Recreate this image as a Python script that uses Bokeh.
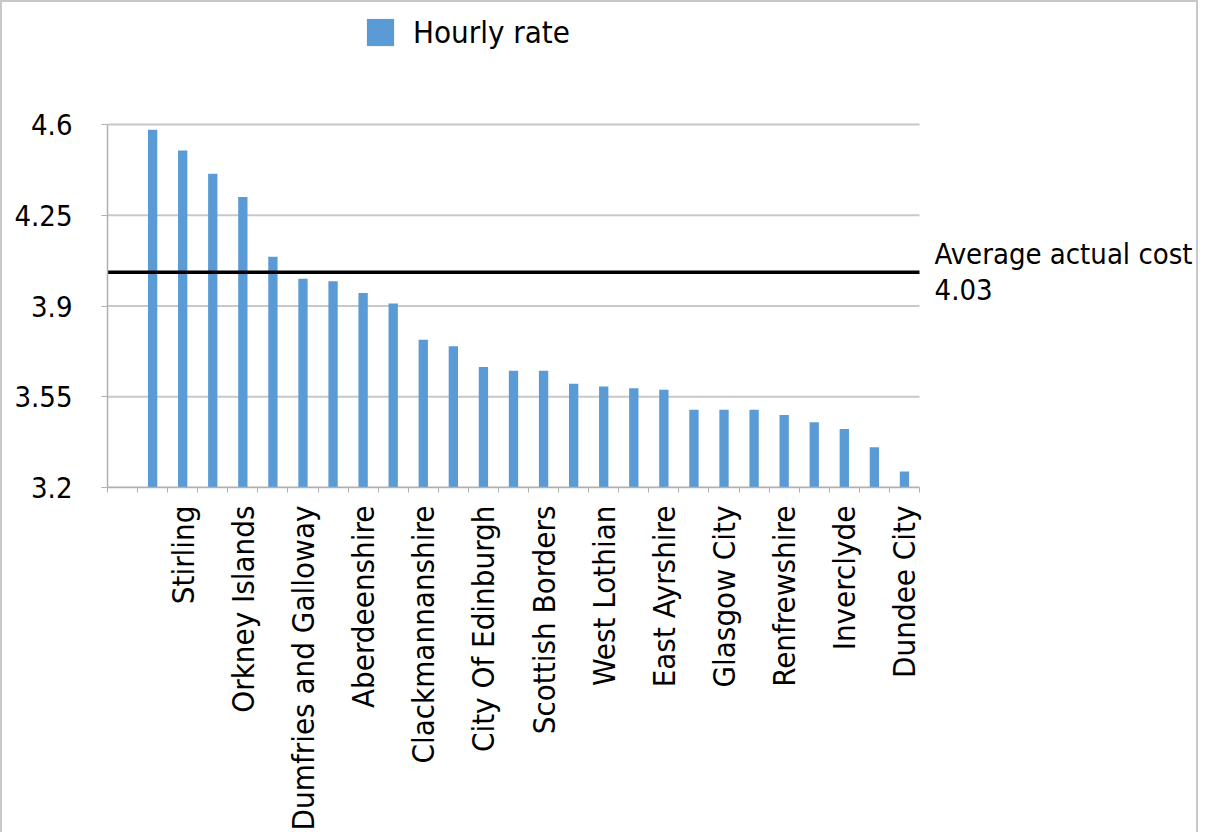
from bokeh.plotting import figure
from bokeh.models import FixedTicker, Label, Legend, LegendItem, ColumnDataSource
from bokeh.embed import file_html
from bokeh.resources import INLINE
import math

# ---- data ----
# 27 category slots; slot 1 is blank, bars occupy slots 2..27
slot_count = 27
bar_slots = list(range(2, 28))
hourly_rate = [4.58, 4.50, 4.41, 4.32, 4.09, 4.005, 3.995, 3.95, 3.91,
               3.77, 3.745, 3.665, 3.65, 3.65, 3.60, 3.59, 3.583, 3.577,
               3.50, 3.50, 3.50, 3.48, 3.452, 3.426, 3.355, 3.262]
shown_labels = ["Stirling", "Orkney Islands", "Dumfries and Galloway", "Aberdeenshire",
                "Clackmannanshire", "City Of Edinburgh", "Scottish Borders", "West Lothian",
                "East Ayrshire", "Glasgow City", "Renfrewshire", "Inverclyde", "Dundee City"]
label_slots = list(range(3, 28, 2))
y_ticks = [3.2, 3.55, 3.9, 4.25, 4.6]
y_tick_labels = ["3.2", "3.55", "3.9", "4.25", "4.6"]
average_cost = 4.03

FONT = "DejaVu Sans Condensed"

# layout (pixels): plotted area spans 812 x 363 px for 27 slots x (3.2..4.6)
px_per_slot = 812 / slot_count
px_per_unit = 363 / (y_ticks[-1] - y_ticks[0])
FW, FH = 1089, 477
x_lo, y_lo = 0.5, y_ticks[0]
x_hi = x_lo + FW / px_per_slot
y_hi = y_lo + FH / px_per_unit

p = figure(frame_width=FW, frame_height=FH, output_backend="svg", toolbar_location=None,
           x_range=(x_lo, x_hi), y_range=(y_lo, y_hi),
           min_border_left=105, min_border_right=0, min_border_top=8, min_border_bottom=320)
p.styles = {"border": "2px solid #c8c8c8"}
p.outline_line_color = None
p.background_fill_color = "white"
p.border_fill_color = "white"
p.xgrid.grid_line_color = None
p.ygrid.grid_line_color = None

data_x0 = 0.5
data_x1 = slot_count + 0.5

# horizontal gridlines over the plotted span
p.segment(x0=[data_x0] * len(y_ticks), x1=[data_x1] * len(y_ticks), y0=y_ticks, y1=y_ticks,
          line_color="#c8c8c8", line_width=2)

src = ColumnDataSource(dict(x=bar_slots, top=hourly_rate))
r = p.vbar(x="x", top="top", bottom=y_ticks[0], width=0.31, source=src,
           fill_color="#5B9BD5", line_color=None)

# average line
p.segment(x0=[data_x0], x1=[data_x1], y0=[average_cost], y1=[average_cost],
          line_color="black", line_width=3.5)

# x axis
xa = p.xaxis[0]
xa.bounds = (data_x0, data_x1)
xa.ticker = FixedTicker(ticks=label_slots,
                        minor_ticks=[s + 0.5 for s in range(0, slot_count + 1)])
xa.major_label_overrides = {s: l for s, l in zip(label_slots, shown_labels)}
xa.major_label_orientation = math.pi / 2
xa.major_tick_out = 0
xa.major_tick_in = 0
xa.minor_tick_out = 5
xa.minor_tick_in = 0
xa.minor_tick_line_color = "#b0b0b0"
xa.axis_line_color = "#b0b0b0"
xa.axis_line_width = 1.5
xa.major_label_standoff = 13
xa.major_label_text_font = FONT
xa.major_label_text_font_size = "31px"
xa.major_label_text_color = "black"

# y axis
ya = p.yaxis[0]
ya.bounds = (y_ticks[0], y_ticks[-1])
ya.ticker = FixedTicker(ticks=y_ticks, minor_ticks=[])
ya.major_label_overrides = {t: l for t, l in zip(y_ticks, y_tick_labels)}
ya.major_tick_out = 6
ya.major_tick_in = 0
ya.major_tick_line_color = "#b0b0b0"
ya.axis_line_color = "#b0b0b0"
ya.axis_line_width = 1.5
ya.major_label_standoff = 29
ya.major_label_text_font = FONT
ya.major_label_text_font_size = "29px"
ya.major_label_text_color = "black"

p.add_layout(Label(x=28.0, y=average_cost, text="Average actual cost\n" + f"{average_cost:.2f}",
                   text_font=FONT, text_font_size="29px", text_baseline="middle",
                   text_align="left", text_color="black", text_line_height=1.05))

legend = Legend(items=[LegendItem(label="Hourly rate", renderers=[r])],
                location=(256, 437), glyph_width=34, glyph_height=34,
                label_text_font=FONT, label_text_font_size="31px", label_text_color="black",
                border_line_color=None, background_fill_alpha=0,
                padding=0, margin=0, label_standoff=16, spacing=0)
p.add_layout(legend, "center")

open("out.html", "w").write(file_html(p, INLINE))
